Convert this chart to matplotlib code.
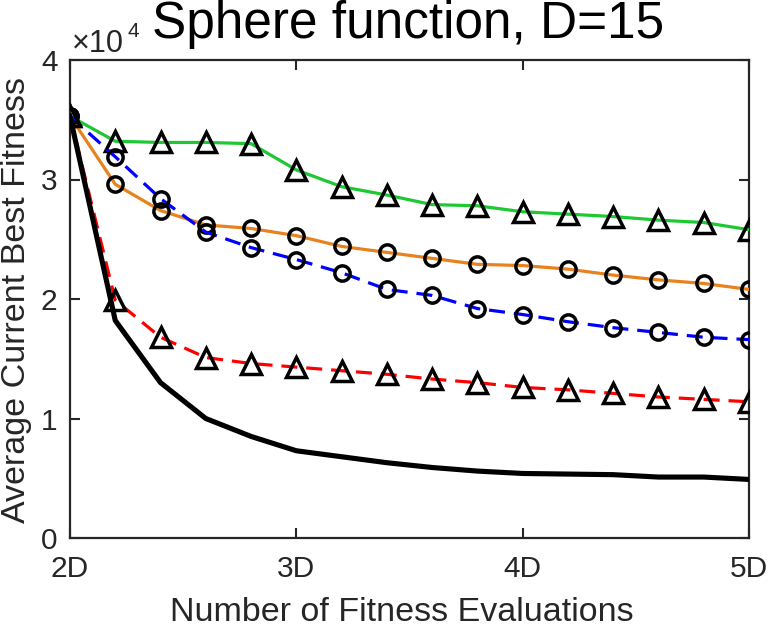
import matplotlib
matplotlib.use("Agg")
import matplotlib.pyplot as plt
import numpy as np

D = 15
evals = [30, 33, 36, 39, 42, 45, 48, 51, 54, 57, 60, 63, 66, 69, 72, 75]
xtick_vals = [30, 45, 60, 75]
xtick_labels = ["2D", "3D", "4D", "5D"]
ytick_vals = [0, 1, 2, 3, 4]

# values in units of 1e4
green = [3.53, 3.32, 3.31, 3.31, 3.30, 3.08, 2.94, 2.87, 2.79, 2.78, 2.73, 2.71, 2.69, 2.66, 2.64, 2.58]
orange = [3.53, 2.96, 2.74, 2.62, 2.59, 2.53, 2.44, 2.39, 2.34, 2.29, 2.28, 2.25, 2.20, 2.16, 2.13, 2.08]
blue = [3.53, 3.19, 2.84, 2.56, 2.43, 2.33, 2.22, 2.08, 2.03, 1.92, 1.87, 1.81, 1.76, 1.72, 1.68, 1.66]
red = [3.53, 1.99, 1.68, 1.51, 1.46, 1.43, 1.40, 1.37, 1.33, 1.30, 1.26, 1.24, 1.21, 1.18, 1.16, 1.14]
black = [3.53, 1.82, 1.30, 1.00, 0.85, 0.73, 0.68, 0.63, 0.59, 0.56, 0.54, 0.535, 0.53, 0.51, 0.51, 0.49]

plt.rcParams['font.family'] = ['Liberation Sans', 'DejaVu Sans']

W, H = 769, 628
fig = plt.figure(figsize=(W / 100, H / 100), dpi=100)
ax = fig.add_axes([70 / W, 90 / H, 679 / W, 478 / H])

dark = '#262626'
ms_tri = 14.5
ms_circ = 11
mew = 2.5
dash = (5, 2.8)
ax.plot(evals, green, '-', color='#1ec832', lw=2.3, marker='^', ms=ms_tri,
        mfc='none', mec='k', mew=mew, zorder=3)
ax.plot(evals, orange, '-', color='#e8821e', lw=2.3, marker='o', ms=ms_circ,
        mfc='none', mec='k', mew=mew, zorder=3)
ax.plot(evals, blue, '--', color='#0000ff', lw=2.3, marker='o', ms=ms_circ,
        mfc='none', mec='k', mew=mew, dashes=dash, zorder=3)
ax.plot(evals, red, '--', color='#ff0000', lw=2.3, marker='^', ms=ms_tri,
        mfc='none', mec='k', mew=mew, dashes=dash, zorder=3)
ax.plot(evals, black, '-', color='k', lw=3.7, zorder=4)

ax.set_xlim(30, 75)
ax.set_ylim(0, 4)
ax.set_xticks(xtick_vals)
ax.set_xticklabels(xtick_labels)
ax.set_yticks(ytick_vals)
ax.set_yticklabels([str(v) for v in ytick_vals])
ax.tick_params(direction='in', length=7, width=1.5, colors=dark, labelsize=21.5,
               top=True, right=True)
ax.tick_params(axis='x', pad=12)
ax.tick_params(axis='y', pad=9)
for s in ax.spines.values():
    s.set_linewidth(1.6)
    s.set_color(dark)

fig.text(402 / W, 1 - 621 / H, 'Number of Fitness Evaluations', fontsize=24.5,
         color=dark, ha='center', va='baseline')
fig.text(25 / W, 1 - 300 / H, 'Average Current Best Fitness', fontsize=24.5,
         color=dark, ha='center', va='baseline', rotation=90,
         rotation_mode='anchor')
fig.text(408 / W, 1 - 38 / H, 'Sphere function, D=15', fontsize=37,
         color='k', ha='center', va='baseline')
fig.text(72 / W, 1 - 52 / H, '\u00d710', fontsize=22, color=dark,
         ha='left', va='baseline')
fig.text(127 / W, 1 - 37 / H, '4', fontsize=15, color=dark,
         ha='left', va='baseline')

fig.savefig('out.png', dpi=100)
